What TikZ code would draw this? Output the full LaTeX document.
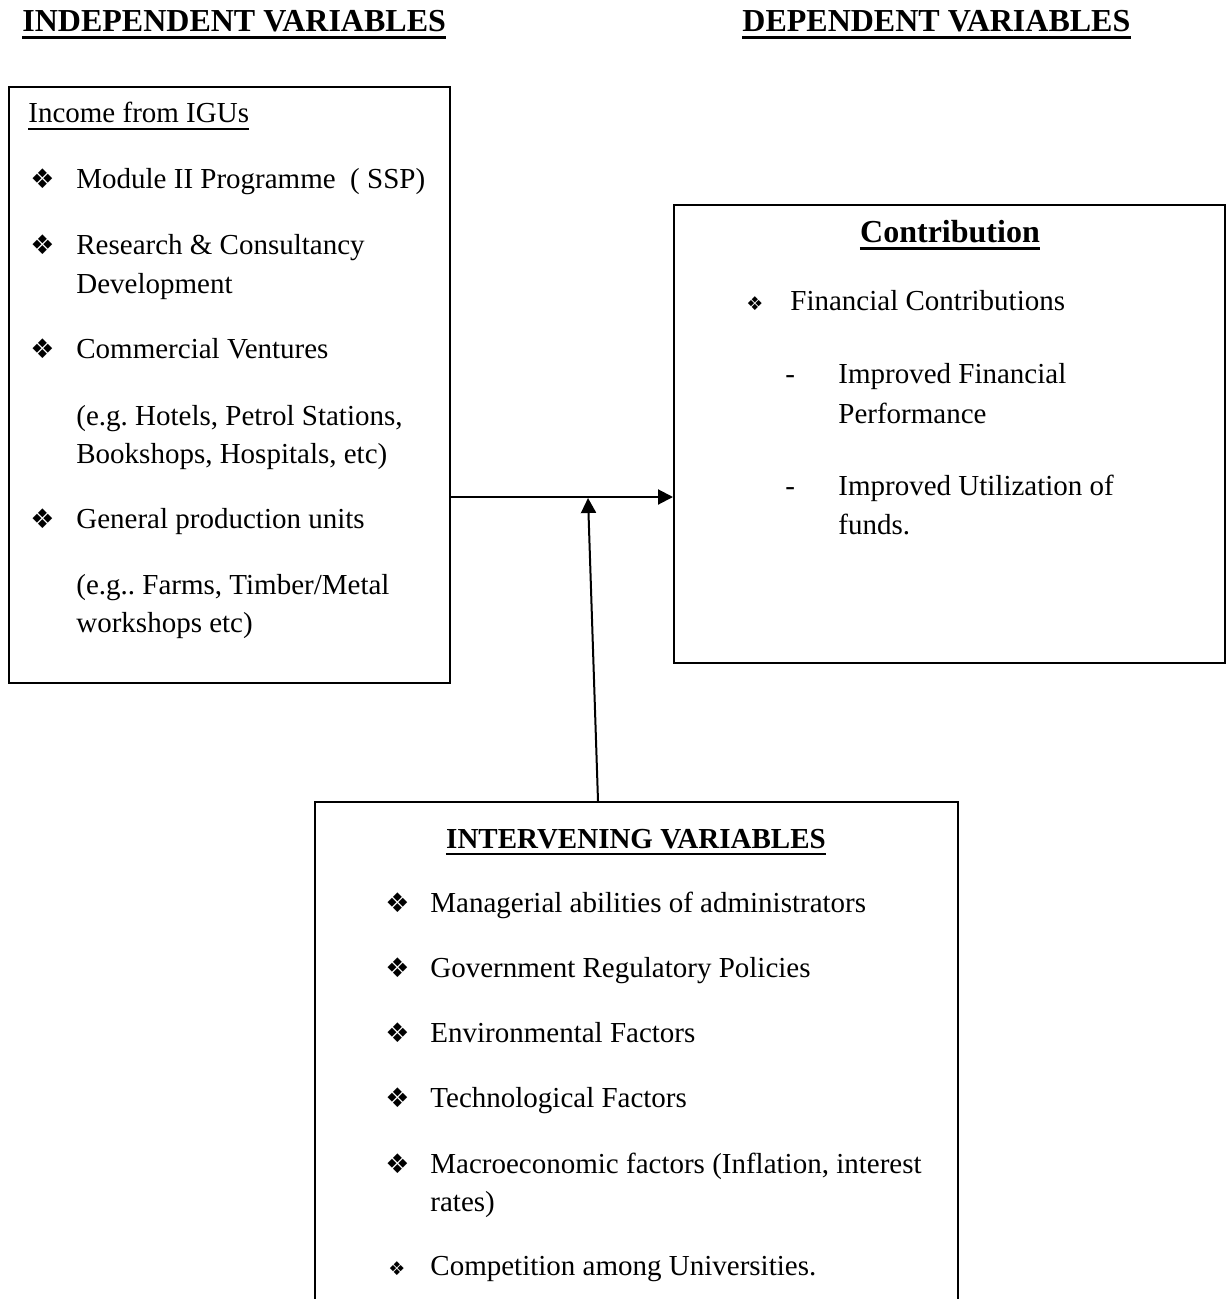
\documentclass[tikz,border=0pt]{standalone}
\usepackage{fontspec}
\setmainfont{Liberation Serif}
\newfontfamily\dingfont{DejaVu Sans}
\usepackage{tikz}
\usetikzlibrary{arrows.meta,positioning}
\newcommand{\bodyfont}{\fontsize{14.5}{19}\selectfont}
\newcommand{\headfont}{\fontsize{16}{19}\selectfont\bfseries}
\newcommand{\dia}{{\dingfont\fontsize{13.5}{13}\selectfont ❖}}
\newcommand{\smalldia}{{\dingfont\fontsize{9.5}{10}\selectfont ❖}}

\begin{document}
\begin{tikzpicture}[x=0.5pt,y=-0.5pt,
  box/.style={draw,line width=1pt,inner sep=0pt,anchor=north west},
  txt/.style={anchor=base west,inner sep=0pt,font=\bodyfont},
  head/.style={anchor=base,inner sep=0pt,font=\headfont},
  arr/.style={line width=1pt,-{Triangle[length=7.5pt,width=7.5pt]}}]
  \useasboundingbox (0,0) rectangle (1225,1299);
  % column headings
  \node[head,anchor=base west] (hind) at (22,32) {INDEPENDENT VARIABLES};
  \node[head,anchor=base west] (hdep) at (742,32) {DEPENDENT VARIABLES};
  \foreach \h in {hind,hdep} \draw[line width=1.5pt] ([yshift=-3pt]\h.base west) -- ([yshift=-3pt]\h.base east);
  % the three boxes
  \node[box,minimum width=220.5pt,minimum height=298pt] (indep) at (8,86) {};
  \node[box,minimum width=275.5pt,minimum height=229pt] (dep) at (673,204) {};
  \node[box,minimum width=321.5pt,minimum height=262pt] (inter) at (314,801) {};
  % independent variables
  \node[txt] (igu) at (28,123) {Income from IGUs};
  \draw[line width=0.8pt] ([yshift=-3pt]igu.base west) -- ([yshift=-3pt]igu.base east);
  \foreach \yy in {189,255,358,528} \node[txt] at (30,\yy) {\dia};
  \node[txt] at (76,189) {Module II Programme~ ( SSP)};
  \node[txt] at (76,255) {Research \& Consultancy};
  \node[txt] at (76,293) {Development};
  \node[txt] at (76,358) {Commercial Ventures};
  \node[txt] at (76,425) {(e.g.\ Hotels, Petrol Stations,};
  \node[txt] at (76,463) {Bookshops, Hospitals, etc)};
  \node[txt] at (76,528) {General production units};
  \node[txt] at (76,594) {(e.g..\ Farms, Timber/Metal};
  \node[txt] at (76,632) {workshops etc)};
  % dependent variables
  \node[head] (contr) at (950,243) {Contribution};
  \draw[line width=1.5pt] ([yshift=-3pt]contr.base west) -- ([yshift=-3pt]contr.base east);
  \node[txt] at (746,311) {\smalldia};
  \node[txt] at (790,311) {Financial Contributions};
  \node[txt] at (785,383) {-};
  \node[txt] at (838,383) {Improved Financial};
  \node[txt] at (838,423) {Performance};
  \node[txt] at (785,495) {-};
  \node[txt] at (838,495) {Improved Utilization of};
  \node[txt] at (838,534) {funds.};
  % intervening variables
  \node[head,font=\fontsize{14.5}{19}\selectfont\bfseries] (hint) at (636,848) {INTERVENING VARIABLES};
  \draw[line width=1.2pt] ([yshift=-3pt]hint.base west) -- ([yshift=-3pt]hint.base east);
  \foreach \yy/\tx in {912/Managerial abilities of administrators,977/Government Regulatory Policies,
      1042/Environmental Factors,1107/Technological Factors,1173/{Macroeconomic factors (Inflation, interest}}
    {\node[txt] at (385,\yy) {\dia}; \node[txt] at (430,\yy) {\tx};}
  \node[txt] at (430,1211) {rates)};
  \node[txt] at (388,1275) {\smalldia};
  \node[txt] at (430,1275) {Competition among Universities.};
  % connectors
  \coordinate (mid) at (0,497);
  \coordinate (tail) at (598,801);
  \coordinate (meet) at (588,498);
  \draw[arr] (indep.east |- mid) -- (dep.west |- mid);
  \draw[arr] (tail) -- (meet);
\end{tikzpicture}
\end{document}
